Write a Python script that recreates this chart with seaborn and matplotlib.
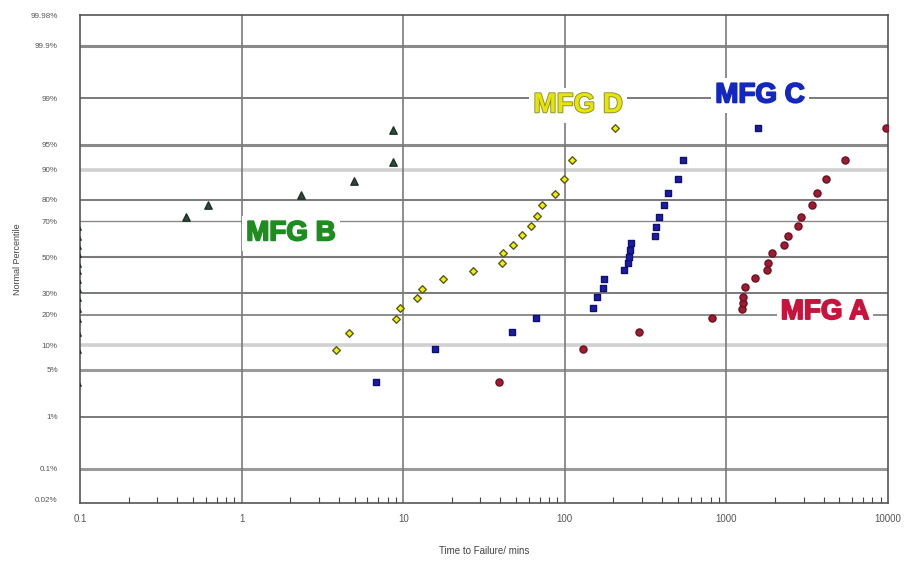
from statistics import NormalDist

import numpy as np
import pandas as pd
import seaborn as sns
import matplotlib.pyplot as plt
import matplotlib.patheffects as pe

# Time to failure (mins) and plotted percentile (%) for each manufacturer
mfg_a_time = [39, 130, 288, 815, 1250, 1260, 1270, 1300, 1500, 1780, 1800,
              1915, 2270, 2400, 2780, 2900, 3390, 3640, 4130, 5420, 9720]
mfg_a_pct = [3.40, 8.96, 13.68, 18.66, 22.39, 25.09, 27.96, 33.07, 37.95, 42.47,
             46.51, 52.33, 56.95, 62.05, 67.46, 72.04, 77.61, 82.49, 87.26, 92.16, 97.02]

mfg_b_time = [0.096, 0.096, 0.096, 0.096, 0.096, 0.096, 0.096, 0.096, 0.096, 0.096,
              0.096, 0.096, 0.096, 0.096, 0.45, 0.62, 2.33, 4.97, 8.65, 8.65]
mfg_b_pct = [3.40, 8.96, 13.68, 18.66, 22.80, 27.96, 32.50, 37.40, 42.47, 46.51,
             52.33, 56.95, 62.05, 67.46, 72.04, 77.61, 81.70, 86.90, 91.90, 96.90]

mfg_c_time = [6.8, 15.7, 47.1, 66.4, 149, 158, 172, 175, 232, 246, 250,
              253, 257, 361, 367, 383, 411, 435, 501, 539, 1570]
mfg_c_pct = [3.40, 8.96, 13.68, 18.66, 22.80, 27.96, 32.50, 37.40, 42.47, 46.51,
             50.00, 54.10, 58.10, 62.05, 66.90, 72.04, 77.61, 82.49, 87.26, 92.16, 97.02]

mfg_d_time = [3.84, 4.62, 9.02, 9.55, 12.2, 13.1, 17.6, 27.0, 40.8, 41.5,
              47.8, 54.3, 61.8, 67.3, 72.3, 86.9, 98.9, 111, 205]
mfg_d_pct = [8.73, 13.40, 18.30, 22.80, 27.50, 32.00, 37.40, 41.90, 46.51, 52.33,
             57.00, 62.60, 67.46, 72.50, 77.61, 82.10, 87.26, 92.16, 97.02]

y_tick_pct = [0.02, 0.1, 1, 5, 10, 20, 30, 50, 70, 80, 90, 95, 99, 99.9, 99.98]
y_tick_labels = ['0.02%', '0.1%', '1%', '5%', '10%', '20%', '30%', '50%', '70%',
                 '80%', '90%', '95%', '99%', '99.9%', '99.98%']
x_ticks = [0.1, 1, 10, 100, 1000, 10000]
x_tick_labels = ['0.1', '1', '10', '100', '1000', '10000']

nd = NormalDist()


def to_z(p):
    return [nd.inv_cdf(v / 100) for v in p]


frames = []
for name, t, p in [('MFG A', mfg_a_time, mfg_a_pct), ('MFG B', mfg_b_time, mfg_b_pct),
                   ('MFG C', mfg_c_time, mfg_c_pct), ('MFG D', mfg_d_time, mfg_d_pct)]:
    frames.append(pd.DataFrame({'mfg': name, 'time': t, 'z': to_z(p)}))
df = pd.concat(frames, ignore_index=True)

sns.set_style('white')
plt.rcParams['font.family'] = ['Liberation Sans', 'DejaVu Sans']

fig = plt.figure(figsize=(9.13, 5.69), dpi=100)
ax = fig.add_axes([80 / 913, 1 - 503 / 569, 808 / 913, 488 / 569])
ax.set_xscale('log')

# horizontal percentile grid (Excel-like mixed shades)
grid_style = {0.1: ('#9a9a9a', 2.2), 1: ('#7a7a7a', 1.4), 5: ('#9a9a9a', 2.2),
              10: ('#d0d0d0', 2.6), 20: ('#7a7a7a', 1.2), 30: ('#7a7a7a', 1.4),
              50: ('#7a7a7a', 1.5), 70: ('#8a8a8a', 1.0), 80: ('#7a7a7a', 1.4),
              90: ('#d0d0d0', 2.6), 95: ('#8a8a8a', 2.2), 99: ('#7a7a7a', 1.4),
              99.9: ('#8a8a8a', 2.2)}
for pct, (col, lw) in grid_style.items():
    ax.axhline(nd.inv_cdf(pct / 100), color=col, lw=lw, zorder=1)
for xv in x_ticks[1:-1]:
    ax.axvline(xv, color='#7a7a7a', lw=1.2, zorder=1)

styles = {
    'MFG A': dict(marker='o', color='#9e1b34', edgecolor='#6e1020', s=26),
    'MFG B': dict(marker='^', color='#2e4a3a', edgecolor='#1e3028', s=28),
    'MFG C': dict(marker='s', color='#1c1ca8', edgecolor='#10106e', s=20),
    'MFG D': dict(marker='D', color='#f0f000', edgecolor='#5a5a20', s=15),
}
for name, st in styles.items():
    sns.scatterplot(data=df[df['mfg'] == name], x='time', y='z', ax=ax,
                    linewidth=1.0, zorder=4, legend=False, **st)

ax.set_xlim(0.1, 10000)
ax.set_ylim(-3.59, 3.53)
ax.set_xticks(x_ticks)
ax.set_xticklabels(x_tick_labels)
ax.set_yticks(to_z(y_tick_pct))
ax.set_yticklabels(y_tick_labels)
ax.tick_params(axis='x', which='major', length=0, pad=8, labelsize=7, labelcolor='#555555')
ax.tick_params(axis='y', which='major', length=0, pad=16, labelsize=5.8, labelcolor='#555555')
ax.tick_params(axis='x', which='minor', bottom=True, direction='in', length=4,
               width=0.8, color='#444444')
for sp in ax.spines.values():
    sp.set_color('#555555')
    sp.set_linewidth(1.2)

ax.set_xlabel('Time to Failure/ mins', fontsize=7, color='#444444', labelpad=16)
ax.set_ylabel('Normal Percentile', fontsize=6.5, color='#444444', labelpad=6)

box = dict(facecolor='white', edgecolor='none', pad=3)
labels = [('MFG B', 2.02, 0.35, '#1e8c1e', '#1e8c1e'),
          ('MFG D', 121, 2.22, '#e6e600', '#8a8a40'),
          ('MFG C', 1615, 2.365, '#1428c0', '#1428c0'),
          ('MFG A', 4075, -0.80, '#c8143c', '#c8143c')]
for txt, lx, ly, col, edge in labels:
    ax.text(lx, ly, txt, color=col, fontsize=20, fontweight='bold',
            ha='center', va='center', bbox=box, zorder=3,
            path_effects=[pe.withStroke(linewidth=1.3, foreground=edge)])

fig.savefig('out.png', dpi=100)
